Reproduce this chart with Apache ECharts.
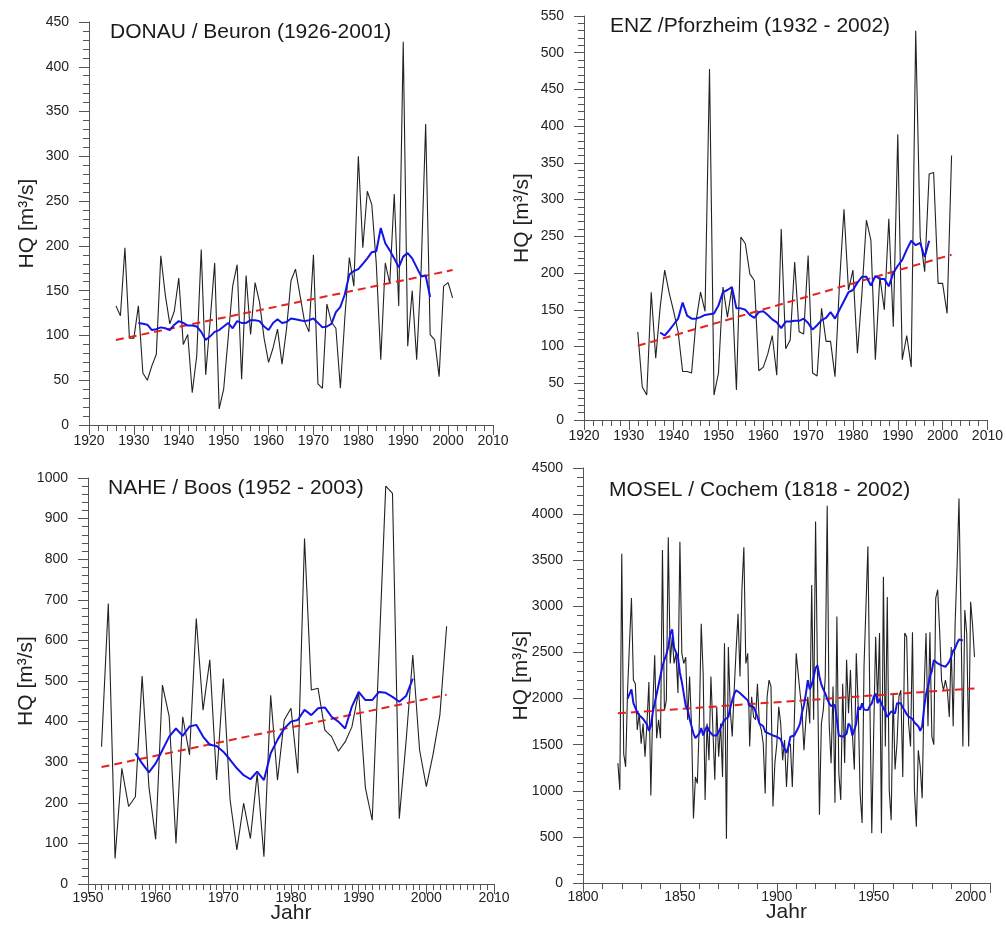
<!DOCTYPE html>
<html>
<head>
<meta charset="utf-8">
<title>HQ Trends</title>
<script src="https://cdn.jsdelivr.net/npm/echarts@6/dist/echarts.min.js"></script>
<style>
  html, body { margin: 0; padding: 0; background: #fff; }
  #chart { width: 1006px; height: 940px; }
</style>
</head>
<body>
<div id="chart"></div>
<script>
// ---- data ----
// DONAU / Beuron
const donauStart = 1926;
const donauHQ = [133, 122, 198, 97, 97, 133, 58, 50, 66, 79,
  189, 145, 113, 127, 164, 90, 101, 36, 77, 196,
  56, 117, 181, 18, 40, 97, 155, 179, 51, 167,
  101, 159, 137, 97, 70, 86, 107, 68, 107, 161,
  174, 145, 116, 104, 190, 46, 41, 135, 115, 108,
  41, 120, 187, 155, 300, 198, 261, 246, 180, 73,
  181, 158, 258, 133, 428, 88, 150, 73, 175, 336,
  101, 95, 54, 155, 159, 142];
const donauMeanStart = 1931;
const donauMean = [114, 113, 112, 106, 107, 109, 108, 106, 112, 116,
  114, 111, 111, 110, 104, 95, 99, 104, 106, 110,
  114, 108, 116, 114, 114, 117, 117, 116, 110, 106,
  114, 118, 114, 115, 119, 118, 117, 116, 117, 119,
  114, 109, 110, 113, 126, 132, 146, 168, 172, 174,
  180, 186, 193, 194, 220, 203, 195, 186, 176, 188,
  192, 186, 176, 166, 167, 143];
const donauTrendYears = [1926, 2001];
const donauTrend = [95, 173];

// ENZ / Pforzheim
const enzStart = 1932;
const enzHQ = [120, 45, 34, 174, 84, 154, 204, 173, 148, 120,
  66, 66, 64, 135, 174, 148, 478, 34, 64, 181,
  140, 180, 41, 249, 240, 199, 190, 67, 72, 90,
  115, 61, 260, 97, 109, 215, 120, 117, 224, 64,
  60, 152, 107, 107, 59, 186, 287, 177, 204, 91,
  172, 272, 245, 82, 195, 150, 274, 127, 389, 82,
  115, 72, 530, 249, 202, 335, 337, 186, 186, 145,
  360];
const enzMeanStart = 1937;
const enzMean = [119, 115, 122, 130, 138, 160, 142, 138, 138, 140,
  143, 144, 145, 156, 174, 177, 181, 152, 152, 150,
  143, 139, 147, 148, 143, 137, 133, 125, 134, 134,
  135, 135, 138, 132, 123, 129, 136, 139, 147, 138,
  150, 162, 174, 177, 187, 195, 195, 183, 196, 192,
  192, 182, 200, 210, 218, 232, 244, 238, 241, 222,
  244];
const enzTrendYears = [1932, 2002];
const enzTrend = [101, 225];

// NAHE / Boos
const naheStart = 1952;
const naheHQ = [338, 691, 63, 285, 191, 215, 512, 240, 110, 490,
  412, 100, 412, 318, 654, 428, 552, 256, 506, 207,
  84, 199, 112, 272, 67, 465, 256, 404, 433, 273,
  851, 478, 482, 379, 363, 327, 350, 387, 473, 236,
  157, 565, 980, 962, 161, 350, 564, 330, 240, 320,
  416, 635];
const naheMeanStart = 1957;
const naheMean = [322, 297, 275, 297, 330, 363, 383, 365, 388, 392,
  363, 343, 340, 326, 306, 285, 268, 258, 277, 256,
  322, 355, 383, 400, 404, 429, 416, 433, 435, 412,
  400, 383, 437, 473, 453, 453, 473, 471, 461, 449,
  463, 506];
const naheTrendYears = [1952, 2003];
const naheTrend = [288, 466];

// MOSEL / Cochem
const moselStart = 1818;
const moselHQ = [1300, 1010, 3570, 1400, 1260, 2090, 2600, 3090, 2200, 2160, // 1818-1827
  1660, 1840, 1510, 1730, 1370, 1730, 2180, 950, 1910, 2470,                  // 1828-1837
  1570, 1770, 1570, 3610, 1870, 1980, 3750, 2380, 2670, 2380,                 // 1838-1847
  2490, 2060, 3700, 2490, 2380, 2450, 1770, 2240, 1700, 700,                  // 1848-1857
  1150, 1080, 1730, 2810, 2270, 900, 1730, 1330, 2240, 2250,                  // 1858-1867
  1120, 1910, 1370, 1730, 1150, 2600, 480, 2560, 1870, 1590,                  // 1868-1877
  2090, 2530, 2920, 2240, 3180, 3640, 2380, 2490, 1480, 2020,                 // 1878-1887
  1800, 1770, 2160, 1730, 1660, 1510, 970, 2020, 2200, 2130,                  // 1888-1897
  830, 1300, 1510, 1910, 1730, 1330, 1550, 1040, 1480, 1510,                  // 1898-1907
  1040, 1730, 2490, 2490, 2060, 1870, 1440, 1770, 2020, 1730,                 // 1908-1917
  3230, 1770, 3920, 2240, 740, 1730, 1880, 2240, 4090, 1730,                  // 1918-1927
  1300, 2130, 870, 2890, 1190, 900, 2160, 1300, 2420, 1840,                   // 1928-1937
  2310, 1620, 1230, 2490, 1910, 970, 650, 2350, 2350, 3650,                   // 1938-1947
  1980, 540, 1660, 2670, 1950, 2710, 540, 3320, 1480, 3100,                   // 1948-1957
  1010, 680, 2060, 1230, 1510, 2020, 2090, 1150, 2710, 2670,                  // 1958-1967
  1730, 1480, 2720, 1010, 610, 1440, 1260, 920, 2090, 2710,                   // 1968-1977
  1700, 2720, 1590, 1500, 3090, 3180, 2740, 2200, 2090, 2200,                 // 1978-1987
  2090, 1800, 2560, 1700, 2810, 3420, 4170, 2900, 1480, 2960,                 // 1988-1997
  2700, 1480, 3050, 2800, 2450];                                              // 1998-2002
const moselMeanStart = 1823;
const moselMean = [2000, 2050, 2100, 1950, 1900, 1850, 1820, 1800, 1780, 1750, // 1823-1832
  1720, 1650, 1700, 1850, 1950, 2050, 2150, 2250, 2350, 2420,                 // 1833-1842
  2480, 2560, 2700, 2750, 2550, 2500, 2450, 2280, 2180, 2050,                 // 1843-1852
  1920, 1880, 1780, 1700, 1620, 1570, 1590, 1620, 1680, 1600,                 // 1853-1862
  1660, 1700, 1650, 1640, 1600, 1590, 1600, 1640, 1680, 1730,                 // 1863-1872
  1770, 1770, 1800, 1900, 1980, 2050, 2090, 2080, 2060, 2040,                 // 1873-1882
  2020, 2000, 1980, 1920, 1910, 1910, 1860, 1800, 1730, 1750,                 // 1883-1892
  1700, 1640, 1630, 1620, 1610, 1600, 1590, 1586, 1586, 1560,                 // 1893-1902
  1500, 1460, 1410, 1480, 1586, 1586, 1600, 1620, 1680, 1730,                 // 1903-1912
  1850, 1930, 2050, 2200, 2100, 2150, 2236, 2330, 2360, 2236,                 // 1913-1922
  2150, 2100, 2056, 2000, 1948, 1920, 1920, 1930, 1767, 1600,                 // 1923-1932
  1586, 1586, 1586, 1620, 1730, 1700, 1600, 1660, 1731, 1911,                 // 1933-1942
  1880, 1948, 1880, 1875, 1875, 1920, 1948, 2020, 2056, 1950,                 // 1943-1952
  2000, 1940, 1900, 1857, 1800, 1780, 1860, 1875, 1839, 1948,                 // 1953-1962
  1948, 1948, 1900, 1870, 1830, 1803, 1800, 1780, 1740, 1720,                 // 1963-1972
  1700, 1650, 1700, 1900, 2050, 2130, 2236, 2300, 2417, 2400,                 // 1973-1982
  2381, 2370, 2360, 2345, 2345, 2370, 2400, 2453, 2520, 2543,                 // 1983-1992
  2600, 2640, 2620, 2630];                                                    // 1993-1996
const moselTrendYears = [1818, 2002];
const moselTrend = [1840, 2110];

// panel titles and axis setup
const panelTitles = ['DONAU / Beuron (1926-2001)', 'ENZ /Pforzheim (1932 - 2002)',
  'NAHE / Boos (1952 - 2003)', 'MOSEL / Cochem (1818 - 2002)'];
const xRanges = [[1920, 2010, 10, 5], [1920, 2010, 10, 5], [1950, 2010, 10, 10], [1800, 2010, 50, 5]];
const yRanges = [[0, 450, 50], [0, 550, 50], [0, 1000, 100], [0, 4500, 500]];
const yName = 'HQ [m³/s]';
const xName = 'Jahr';

// ---- chart ----
const FONT = '"Liberation Sans", Arial, sans-serif';
const AXIS_COLOR = '#555';

function toPairs(start, values) {
  return values.map((v, i) => [start + i, v]);
}

const grids = [
  { left: 89, top: 22, width: 404, height: 403 },
  { left: 584, top: 16, width: 406, height: 404 },
  { left: 88, top: 478, width: 406, height: 406 },
  { left: 583, top: 468, width: 407, height: 415 }
];

const titlePos = [[110, 22], [610, 16], [108, 478], [609, 480]];

const panels = [
  { start: donauStart, hq: donauHQ, meanStart: donauMeanStart, mean: donauMean, ty: donauTrendYears, tv: donauTrend },
  { start: enzStart, hq: enzHQ, meanStart: enzMeanStart, mean: enzMean, ty: enzTrendYears, tv: enzTrend },
  { start: naheStart, hq: naheHQ, meanStart: naheMeanStart, mean: naheMean, ty: naheTrendYears, tv: naheTrend },
  { start: moselStart, hq: moselHQ, meanStart: moselMeanStart, mean: moselMean, ty: moselTrendYears, tv: moselTrend }
];

const chart = echarts.init(document.getElementById('chart'), null, { renderer: 'canvas' });

const axisCommon = {
  axisLine: { show: true, lineStyle: { color: AXIS_COLOR, width: 1 } },
  axisTick: { show: true, inside: false, length: 10, lineStyle: { color: AXIS_COLOR } },
  splitLine: { show: false },
  nameMoveOverlap: false,
  axisLabel: { color: '#222', fontSize: 14, fontFamily: FONT, formatter: v => String(v) }
};

const xAxes = xRanges.map((r, i) => ({
  type: 'value', gridIndex: i, min: r[0], max: r[1], interval: r[2],
  ...axisCommon,
  axisLabel: { ...axisCommon.axisLabel, margin: i < 2 ? 9 : 7, showMaxLabel: i !== 3 },
  minorTick: { show: true, splitNumber: r[3], length: 6, lineStyle: { color: AXIS_COLOR } },
  name: i >= 2 ? xName : '',
  nameLocation: 'middle', nameGap: 19,
  nameTextStyle: { fontSize: 21, color: '#222', fontFamily: FONT }
}));

const yAxes = yRanges.map((r, i) => ({
  type: 'value', gridIndex: i, min: r[0], max: r[1], interval: r[2],
  ...axisCommon,
  axisLabel: { ...axisCommon.axisLabel, margin: 20 },
  minorTick: { show: true, splitNumber: 5, length: 6, lineStyle: { color: AXIS_COLOR } },
  name: yName, nameLocation: 'middle', nameRotate: 90, nameGap: 51,
  nameTextStyle: { fontSize: 21, color: '#222', fontFamily: FONT }
}));

const series = [];
panels.forEach((p, i) => {
  series.push({
    type: 'line', xAxisIndex: i, yAxisIndex: i, showSymbol: false, z: 2,
    lineStyle: { color: '#222', width: 1.1 },
    data: toPairs(p.start, p.hq)
  });
  series.push({
    type: 'line', xAxisIndex: i, yAxisIndex: i, showSymbol: false, z: 3,
    lineStyle: { color: '#e3231f', width: 2, type: [8, 5] },
    data: p.ty.map((y, k) => [y, p.tv[k]])
  });
  series.push({
    type: 'line', xAxisIndex: i, yAxisIndex: i, showSymbol: false, z: 4,
    lineStyle: { color: '#1414e6', width: 2 },
    data: toPairs(p.meanStart, p.mean)
  });
});

chart.setOption({
  animation: false,
  backgroundColor: '#fff',
  title: panelTitles.map((t, i) => ({
    text: t, left: titlePos[i][0], top: titlePos[i][1], padding: 0,
    textStyle: { fontSize: 21, fontWeight: 'normal', color: '#1a1a1a', fontFamily: FONT }
  })),
  grid: grids,
  xAxis: xAxes,
  yAxis: yAxes,
  series: series
});
</script>
</body>
</html>
